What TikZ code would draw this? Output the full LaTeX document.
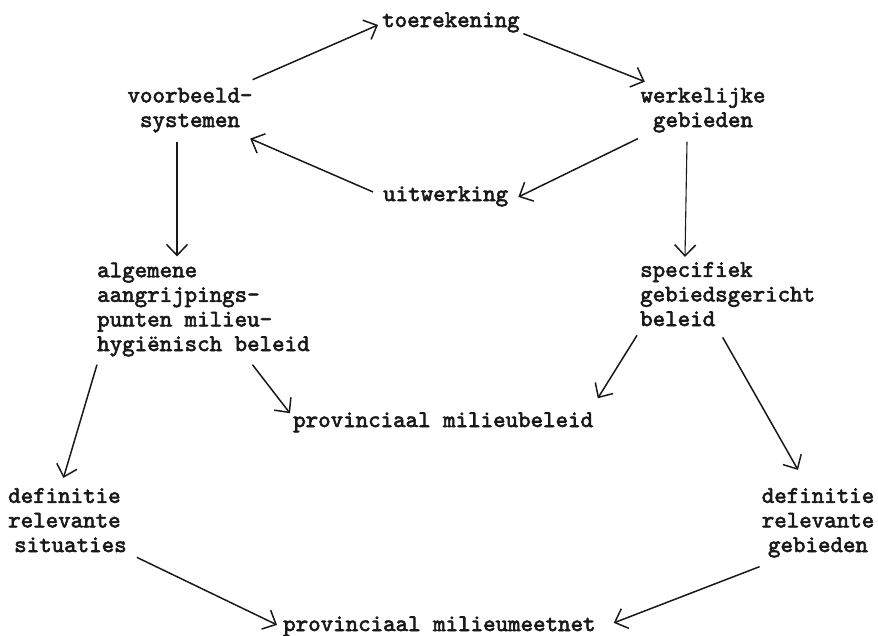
\documentclass[tikz,border=0pt]{standalone}
\usepackage{fontspec}
\usetikzlibrary{arrows.meta}
\newfontfamily\twfont{lmmono10-regular}[Extension=.otf, FakeBold=2.6]
\begin{document}
\begin{tikzpicture}[x=1pt,y=-1pt,
  lbl/.style={inner sep=0pt, text=black!90,
    font=\twfont\fontsize{23.8}{24.6}\selectfont},
  flow/.style={line width=1.5pt, draw=black!90,
    -{Straight Barb[length=11pt,width=21pt,line width=1.5pt]}},
  vflow/.style={flow, line width=1.1pt}]
\useasboundingbox (0,0) rectangle (878,635);

% nodes (multi-line nodes are anchored at the baseline of their last line)
\node[lbl, anchor=base west] (toer) at (382,27) {toerekening};
\node[lbl, align=center, anchor=base] (vb) at (190,127) {voorbeeld-\\systemen};
\node[lbl, align=center, anchor=base] (wg) at (703,127) {werkelijke\\gebieden};
\node[lbl, anchor=base west] (uit) at (383,201) {uitwerking};
\node[lbl, align=left, anchor=base west] (alg) at (97,351)
  {algemene\\aangrijpings-\\punten milieu-\\hygiënisch beleid};
\node[lbl, align=left, anchor=base west] (spec) at (640,326)
  {specifiek\\gebiedsgericht\\beleid};
\node[lbl, anchor=base west] (pmb) at (293,427) {provinciaal milieubeleid};
\node[lbl, align=left, anchor=base west] (drs) at (8,552)
  {definitie\\relevante\\\hspace*{6pt}situaties};
\node[lbl, align=center, anchor=base] (drg) at (818,552)
  {definitie\\relevante\\gebieden};
\node[lbl, anchor=base west] (pmm) at (283,631) {provinciaal milieumeetnet};

% upper cycle
\draw[flow] ([shift={(0,-8)}]vb.north east) -- ([shift={(-4,2.5)}]toer.west);
\draw[flow] ([shift={(3.5,1)}]toer.south east) -- ([shift={(4.5,-6)}]wg.north west);
\draw[flow] ([shift={(-2.5,6)}]wg.south west) -- ([shift={(10,0.5)}]uit.east);
\draw[flow] ([shift={(-10,-4.5)}]uit.west) -- ([shift={(-2.5,6)}]vb.south east);

% downward branches
\draw[vflow] ([shift={(-13,9)}]vb.south) -- ([shift={(80,-6)}]alg.north west);
\draw[vflow] ([shift={(-16,9)}]wg.south) -- ([shift={(45,-5)}]spec.north west);
\draw[flow] ([shift={(0,8)}]alg.south west) -- ([shift={(-4,-10)}]drs.north);
\draw[flow] ([shift={(49,8)}]alg.south) -- ([shift={(-3,1)}]pmb.north west);
\draw[flow] ([shift={(-3,9)}]spec.south west) -- ([shift={(4.5,-14)}]pmb.north east);
\draw[flow] ([shift={(-5,11)}]spec.south) -- ([shift={(-20,-18)}]drg.north);

% measuring network
\draw[flow] ([shift={(10,5)}]drs.south east) -- ([shift={(-6,-1.5)}]pmm.west);
\draw[flow] ([shift={(-2,9)}]drg.south west) -- ([shift={(18,-3.5)}]pmm.east);
\end{tikzpicture}
\end{document}
